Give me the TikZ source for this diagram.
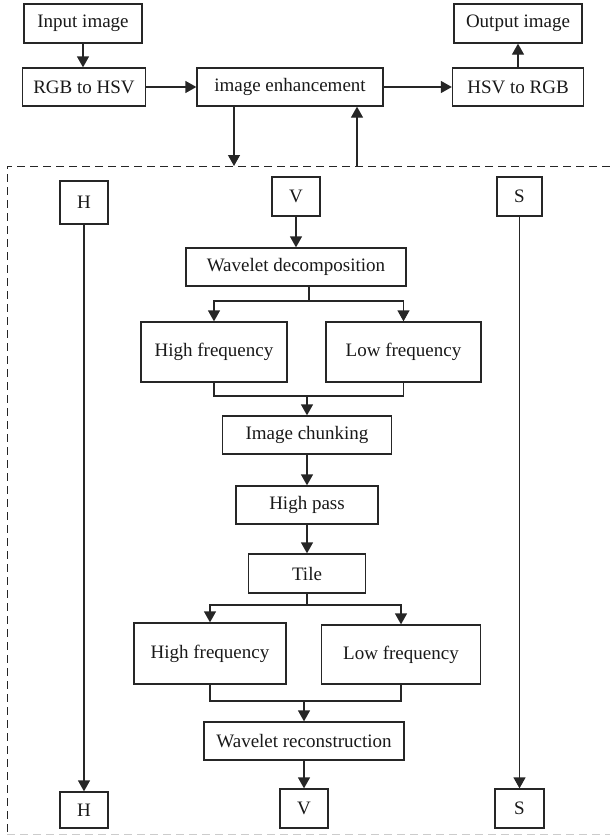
\documentclass[tikz,border=0pt]{standalone}
\usepackage{fontspec}
\setmainfont{Liberation Serif}
\usetikzlibrary{arrows.meta}

\tikzset{
  box/.style={draw=black!85, fill=white, inner sep=0pt, text=black!90,
    font=\fontsize{19}{21}\selectfont},
  arr/.style={-{Triangle[length=11pt,width=12pt]}},
  frame/.style={dashed, dash pattern=on 8pt off 5pt, line width=1pt}
}

\begin{document}
\begin{tikzpicture}[x=1pt, y=-1pt, line width=1.3pt, draw=black!85]
  \useasboundingbox (0,0) rectangle (610,835);

  % Top row
  \node[box, minimum width=118pt, minimum height=39pt] (in) at (83,23.5) {Input image};
  \node[box, minimum width=123pt, minimum height=38pt] (rgbhsv) at (84,87) {RGB to HSV};
  \node[box, minimum width=186pt, minimum height=38pt] (enh) at (290,87) {image enhancement};
  \node[box, minimum width=131pt, minimum height=38pt] (hsvrgb) at (518,87) {HSV to RGB};
  \node[box, minimum width=128pt, minimum height=39pt] (out) at (518,23.5) {Output image};

  \draw[arr] (in) -- (in |- rgbhsv.north);
  \draw[arr] (rgbhsv) -- (enh);
  \draw[arr] (enh) -- (hsvrgb);
  \draw[arr] (hsvrgb) -- (out);

  % Links to the dashed region
  \coordinate (dn) at (234,166);
  \coordinate (up) at (357,166);
  \draw[arr] (enh.south -| dn) -- (dn);
  \draw[arr] (up) -- (up |- enh.south);

  % Dashed region
  \draw[frame] (610,166) -- (7,166) -- (7,834);
  \draw[frame, draw=black!20] (7,834) -- (610,834);

  % Channels
  \node[box, minimum width=48pt, minimum height=43pt] (htop) at (84,202.5) {H};
  \node[box, minimum width=48pt, minimum height=39pt] (vtop) at (296,196.5) {V};
  \node[box, minimum width=45pt, minimum height=39pt] (stop) at (519.5,196.5) {S};
  \node[box, minimum width=48pt, minimum height=36pt] (hbot) at (84,810) {H};
  \node[box, minimum width=48pt, minimum height=39pt] (vbot) at (304,808.5) {V};
  \node[box, minimum width=49pt, minimum height=39pt] (sbot) at (519.5,808.5) {S};

  \draw[arr] (htop) -- (hbot);
  \draw[arr] (stop) -- (sbot);

  % V channel chain
  \node[box, minimum width=220pt, minimum height=38pt] (wd) at (296,267) {Wavelet decomposition};
  \node[box, minimum width=146pt, minimum height=60pt] (hf1) at (214,352) {High frequency};
  \node[box, minimum width=155pt, minimum height=60pt] (lf1) at (403.5,352) {Low frequency};
  \node[box, minimum width=169pt, minimum height=38pt] (ic) at (307,435) {Image chunking};
  \node[box, minimum width=142pt, minimum height=38pt] (hp) at (307,505) {High pass};
  \node[box, minimum width=117pt, minimum height=39pt] (tile) at (307,573.5) {Tile};
  \node[box, minimum width=152pt, minimum height=61pt] (hf2) at (210,653.5) {High frequency};
  \node[box, minimum width=159pt, minimum height=59pt] (lf2) at (401,654.5) {Low frequency};
  \node[box, minimum width=200pt, minimum height=38pt] (wr) at (304,741) {Wavelet reconstruction};

  \draw[arr] (vtop) -- (wd);

  % Split and merge
  \coordinate (fork1) at (309,301);
  \draw (wd.south -| fork1) -- (fork1);
  \draw[arr] (fork1) -| (hf1);
  \draw[arr] (fork1) -| (lf1);

  \coordinate (join1) at (307,396);
  \draw (hf1.south) |- (join1) -| (lf1.south);
  \draw[arr] (join1) -- (ic);

  \draw[arr] (ic) -- (hp);
  \draw[arr] (hp) -- (tile);

  \coordinate (fork2) at (307,605);
  \draw (tile) -- (fork2);
  \draw[arr] (fork2) -| (hf2);
  \draw[arr] (fork2) -| (lf2);

  \coordinate (join2) at (304,701);
  \draw (hf2.south) |- (join2) -| (lf2.south);
  \draw[arr] (join2) -- (wr);
  \draw[arr] (wr) -- (vbot);
\end{tikzpicture}
\end{document}
